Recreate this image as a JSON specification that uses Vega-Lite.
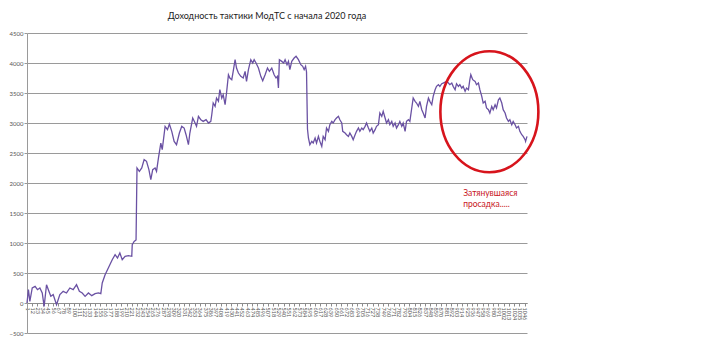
{
  "$schema": "https://vega.github.io/schema/vega-lite/v6.json",
  "width": 500,
  "height": 300,
  "autosize": "none",
  "padding": {"left": 27, "top": 33, "right": 193, "bottom": 26},
  "background": "white",
  "title": {"text": "Доходность тактики МодТС с начала 2020 года", "font": "Lato", "fontSize": 9, "fontWeight": "normal", "color": "#1a1a1a", "offset": 9, "dx": -10},
  "config": {"view": {"stroke": null}},
  "datasets": {
    "series": [
      {"d":1,"v":0},{"d":4,"v":222},{"d":7,"v":27},{"d":12,"v":250},{"d":18,"v":277},{"d":23,"v":222},{"d":28,"v":250},{"d":33,"v":167},{"d":37,"v":-56},{"d":42,"v":305},{"d":47,"v":195},{"d":51,"v":111},{"d":56,"v":139},{"d":63,"v":-28},{"d":70,"v":139},{"d":77,"v":195},{"d":84,"v":167},{"d":91,"v":250},{"d":98,"v":222},{"d":105,"v":305},{"d":111,"v":195},{"d":117,"v":167},{"d":123,"v":111},{"d":130,"v":167},{"d":137,"v":122},{"d":144,"v":155},{"d":151,"v":167},{"d":156,"v":155},{"d":159,"v":333},{"d":165,"v":472},{"d":170,"v":555},{"d":175,"v":638},{"d":180,"v":722},{"d":186,"v":805},{"d":191,"v":750},{"d":196,"v":833},{"d":201,"v":722},{"d":207,"v":778},{"d":214,"v":789},{"d":221,"v":778},{"d":222,"v":972},{"d":226,"v":1027},{"d":230,"v":1050},{"d":232,"v":2250},{"d":237,"v":2194},{"d":242,"v":2250},{"d":247,"v":2389},{"d":252,"v":2361},{"d":257,"v":2222},{"d":261,"v":2055},{"d":265,"v":2222},{"d":270,"v":2250},{"d":273,"v":2194},{"d":277,"v":2416},{"d":282,"v":2666},{"d":285,"v":2555},{"d":291,"v":2944},{"d":296,"v":2889},{"d":300,"v":2983},{"d":305,"v":2861},{"d":310,"v":2694},{"d":315,"v":2638},{"d":321,"v":2833},{"d":326,"v":2944},{"d":331,"v":2916},{"d":335,"v":2805},{"d":340,"v":2638},{"d":343,"v":2833},{"d":349,"v":3083},{"d":354,"v":3000},{"d":357,"v":2944},{"d":361,"v":3111},{"d":366,"v":3055},{"d":371,"v":3027},{"d":377,"v":3055},{"d":382,"v":3000},{"d":387,"v":3027},{"d":389,"v":3138},{"d":392,"v":3333},{"d":396,"v":3277},{"d":399,"v":3416},{"d":403,"v":3361},{"d":406,"v":3555},{"d":410,"v":3416},{"d":413,"v":3472},{"d":417,"v":3305},{"d":420,"v":3500},{"d":424,"v":3805},{"d":427,"v":3750},{"d":431,"v":3722},{"d":434,"v":3861},{"d":438,"v":4055},{"d":441,"v":3916},{"d":445,"v":3833},{"d":450,"v":3777},{"d":455,"v":3750},{"d":459,"v":3861},{"d":462,"v":3694},{"d":466,"v":3889},{"d":471,"v":4055},{"d":475,"v":4000},{"d":478,"v":4055},{"d":482,"v":4000},{"d":487,"v":3916},{"d":492,"v":3777},{"d":496,"v":3705},{"d":501,"v":3805},{"d":506,"v":3916},{"d":510,"v":3861},{"d":515,"v":3916},{"d":520,"v":3805},{"d":524,"v":3750},{"d":527,"v":3777},{"d":529,"v":3583},{"d":531,"v":4055},{"d":536,"v":4027},{"d":540,"v":4000},{"d":543,"v":4055},{"d":547,"v":3972},{"d":550,"v":4027},{"d":553,"v":3889},{"d":557,"v":4027},{"d":562,"v":4083},{"d":566,"v":4111},{"d":571,"v":4055},{"d":576,"v":3972},{"d":580,"v":3944},{"d":583,"v":3889},{"d":586,"v":3944},{"d":588,"v":3850},{"d":590,"v":2900},{"d":592,"v":2750},{"d":595,"v":2638},{"d":599,"v":2694},{"d":602,"v":2666},{"d":606,"v":2750},{"d":609,"v":2666},{"d":613,"v":2777},{"d":616,"v":2694},{"d":620,"v":2611},{"d":623,"v":2777},{"d":627,"v":2722},{"d":630,"v":2916},{"d":634,"v":2861},{"d":637,"v":2972},{"d":641,"v":3027},{"d":644,"v":3000},{"d":648,"v":3055},{"d":651,"v":3083},{"d":655,"v":3111},{"d":658,"v":3055},{"d":662,"v":3000},{"d":664,"v":2861},{"d":669,"v":2833},{"d":672,"v":2805},{"d":676,"v":2777},{"d":679,"v":2833},{"d":683,"v":2777},{"d":686,"v":2722},{"d":690,"v":2805},{"d":693,"v":2861},{"d":697,"v":2916},{"d":700,"v":2861},{"d":704,"v":2916},{"d":707,"v":2889},{"d":711,"v":2944},{"d":714,"v":3000},{"d":718,"v":2916},{"d":721,"v":2861},{"d":725,"v":2916},{"d":728,"v":2833},{"d":732,"v":2889},{"d":735,"v":2944},{"d":739,"v":2972},{"d":742,"v":3166},{"d":746,"v":3111},{"d":749,"v":3194},{"d":753,"v":3083},{"d":756,"v":3000},{"d":760,"v":3055},{"d":763,"v":2972},{"d":767,"v":3027},{"d":770,"v":2944},{"d":774,"v":3000},{"d":777,"v":2916},{"d":781,"v":2972},{"d":784,"v":3027},{"d":788,"v":2944},{"d":791,"v":3000},{"d":795,"v":2861},{"d":798,"v":3027},{"d":802,"v":3055},{"d":805,"v":3027},{"d":809,"v":3250},{"d":812,"v":3416},{"d":816,"v":3361},{"d":819,"v":3333},{"d":823,"v":3277},{"d":826,"v":3361},{"d":830,"v":3222},{"d":833,"v":3166},{"d":837,"v":3083},{"d":840,"v":3277},{"d":844,"v":3416},{"d":847,"v":3361},{"d":851,"v":3305},{"d":854,"v":3444},{"d":858,"v":3555},{"d":861,"v":3611},{"d":865,"v":3639},{"d":868,"v":3611},{"d":872,"v":3655},{"d":875,"v":3666},{"d":879,"v":3680},{"d":882,"v":3694},{"d":886,"v":3666},{"d":889,"v":3639},{"d":893,"v":3666},{"d":896,"v":3611},{"d":900,"v":3555},{"d":903,"v":3655},{"d":907,"v":3611},{"d":910,"v":3639},{"d":914,"v":3583},{"d":917,"v":3611},{"d":921,"v":3527},{"d":924,"v":3583},{"d":928,"v":3555},{"d":931,"v":3722},{"d":933,"v":3805},{"d":937,"v":3722},{"d":942,"v":3694},{"d":945,"v":3639},{"d":949,"v":3666},{"d":952,"v":3555},{"d":956,"v":3444},{"d":959,"v":3333},{"d":963,"v":3361},{"d":966,"v":3250},{"d":970,"v":3222},{"d":973,"v":3166},{"d":977,"v":3277},{"d":980,"v":3222},{"d":984,"v":3305},{"d":987,"v":3250},{"d":991,"v":3388},{"d":994,"v":3416},{"d":998,"v":3333},{"d":1001,"v":3222},{"d":1005,"v":3166},{"d":1008,"v":3083},{"d":1012,"v":3027},{"d":1015,"v":3055},{"d":1019,"v":2972},{"d":1022,"v":3027},{"d":1026,"v":2972},{"d":1029,"v":2916},{"d":1033,"v":2944},{"d":1036,"v":2861},{"d":1040,"v":2805},{"d":1043,"v":2777},{"d":1047,"v":2722},{"d":1048,"v":2694},{"d":1051,"v":2777}
    ],
    "ellipse": [{"d": 972, "v": 3188}],
    "note": [{"d": 917, "v": 1785, "t": "Затянувшаяся\nпросадка....."}]
  },
  "layer": [
    {
      "data": {"name": "series"},
      "mark": {"type": "line", "color": "#6a51a3", "strokeWidth": 1.3},
      "encoding": {
        "x": {"field": "d", "type": "quantitative", "scale": {"domain": [1, 1051], "nice": false, "zero": false},
          "axis": {"orient": "bottom", "offset": -30, "title": null, "grid": false, "tickCount": 500,
            "values": [1,12,23,34,45,56,67,78,89,100,111,122,133,144,155,166,177,188,199,210,221,232,243,254,265,276,287,298,309,320,331,342,353,364,375,386,397,408,419,430,441,452,463,474,485,496,507,518,529,540,551,562,573,584,595,606,617,628,639,650,661,672,683,694,705,716,727,738,749,760,771,782,793,804,815,826,837,848,859,870,881,892,903,914,925,936,947,958,969,980,991,1002,1013,1024,1035,1046],
            "format": "d", "labelAngle": 90, "labelFontSize": 5.5, "labelFont": "Lato", "labelColor": "#555555", "labelOverlap": false, "labelFlush": false, "labelPadding": 1,
            "domainColor": "#8c8c8c", "tickColor": "#8c8c8c", "tickSize": 3}},
        "y": {"field": "v", "type": "quantitative", "scale": {"domain": [-500, 4500], "nice": false, "zero": false},
          "axis": {"title": null, "tickCount": 50, "format": "d", "labelOverlap": false, "values": [-500,0,500,1000,1500,2000,2500,3000,3500,4000,4500], "grid": true, "gridColor": "#9a9a9a", "gridWidth": 1,
            "labelFontSize": 6, "labelFont": "Lato", "labelColor": "#555555", "labelPadding": 1,
            "domainColor": "#9a9a9a", "tickColor": "#9a9a9a", "tickSize": 3}}
      }
    },
    {
      "data": {"name": "ellipse"},
      "mark": {"type": "point", "shape": "M -0.81 0 A 0.81 1 0 1 0 0.81 0 A 0.81 1 0 1 0 -0.81 0 Z", "filled": false, "stroke": "#d7141c", "strokeWidth": 2.6, "size": 14641, "opacity": 1},
      "encoding": {"x": {"field": "d", "type": "quantitative"}, "y": {"field": "v", "type": "quantitative"}}
    },
    {
      "data": {"name": "note"},
      "mark": {"type": "text", "align": "left", "baseline": "alphabetic", "color": "#c8161d", "font": "Lato", "fontSize": 8.5, "lineBreak": "\n", "lineHeight": 11},
      "encoding": {"x": {"field": "d", "type": "quantitative"}, "y": {"field": "v", "type": "quantitative"}, "text": {"field": "t"}}
    }
  ]
}
